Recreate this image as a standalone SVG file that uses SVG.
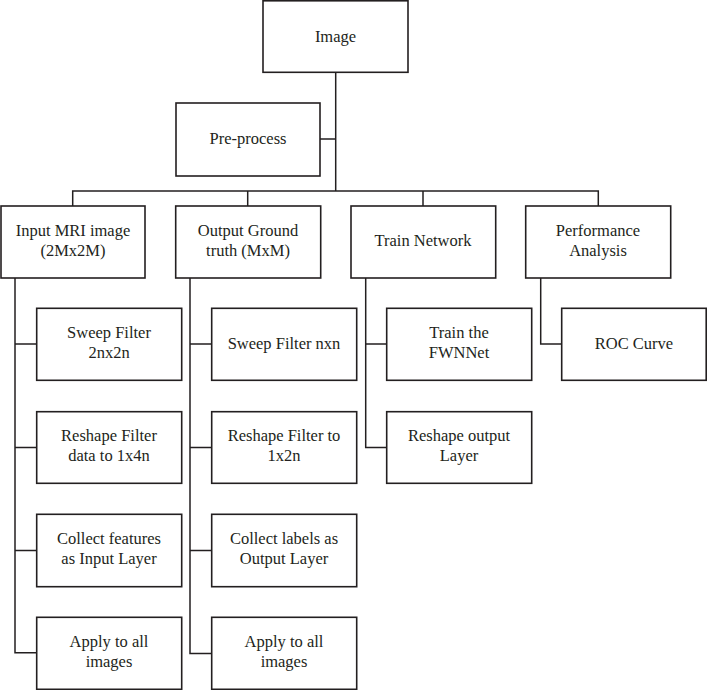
<svg xmlns="http://www.w3.org/2000/svg" width="707" height="690" viewBox="0 0 707 690">
<style>
.box{fill:#fff;stroke:#231f20;stroke-width:1.6}
.ln{fill:none;stroke:#231f20;stroke-width:1.5}
text{font-family:"Liberation Serif","DejaVu Serif",serif;font-size:16.5px;fill:#231f20;text-anchor:middle}
</style>
<rect width="707" height="690" fill="#fff"/>
<g id="connectors">
<path class="ln" d="M335.7 72 V191 M320 139 H335.7"/>
<path class="ln" d="M72.7 206 V191 H598.3 V206 M247.7 191 V206 M423 191 V206"/>
<path class="ln" d="M15 278 V652.7 H36.7 M15 344 H36.7 M15 447.5 H36.7 M15 550.5 H36.7"/>
<path class="ln" d="M190 278 V653.5 H211.7 M190 344 H211.7 M190 447.5 H211.7 M190 550.5 H211.7"/>
<path class="ln" d="M365.7 278 V447.5 H386.7 M365.7 344 H386.7"/>
<path class="ln" d="M540.7 278 V344 H561.7"/>
</g>
<g id="image"><rect class="box" x="263" y="0.8" width="145" height="71.5"/><text x="335.5" y="42">Image</text></g>
<g id="preprocess"><rect class="box" x="176" y="103" width="144" height="73"/><text x="248" y="144">Pre-process</text></g>
<g id="input"><rect class="box" x="1" y="206" width="144" height="72"/><text x="73" y="236">Input MRI image</text><text x="73" y="256">(2Mx2M)</text></g>
<g id="output"><rect class="box" x="175.7" y="206" width="145" height="72"/><text x="248" y="236">Output Ground</text><text x="248" y="256">truth (MxM)</text></g>
<g id="train"><rect class="box" x="351" y="206" width="144.7" height="72"/><text x="423" y="246">Train Network</text></g>
<g id="perf"><rect class="box" x="525.7" y="206" width="145" height="72"/><text x="598" y="236">Performance</text><text x="598" y="256">Analysis</text></g>
<g id="sweep1"><rect class="box" x="36.7" y="308.3" width="145" height="72"/><text x="109" y="338">Sweep Filter</text><text x="109" y="358">2nx2n</text></g>
<g id="reshape1"><rect class="box" x="36.7" y="411.7" width="145" height="71.6"/><text x="109" y="441">Reshape Filter</text><text x="109" y="461">data to 1x4n</text></g>
<g id="collect1"><rect class="box" x="36.7" y="514.3" width="145" height="72.4"/><text x="109" y="544">Collect features</text><text x="109" y="564">as Input Layer</text></g>
<g id="apply1"><rect class="box" x="36.7" y="617.3" width="145" height="72"/><text x="109" y="647">Apply to all</text><text x="109" y="667">images</text></g>
<g id="sweep2"><rect class="box" x="211.7" y="308.3" width="145" height="72"/><text x="284" y="349">Sweep Filter nxn</text></g>
<g id="reshape2"><rect class="box" x="211.7" y="411.7" width="145" height="71.6"/><text x="284" y="441">Reshape Filter to</text><text x="284" y="461">1x2n</text></g>
<g id="collect2"><rect class="box" x="211.7" y="514.3" width="145" height="72.4"/><text x="284" y="544">Collect labels as</text><text x="284" y="564">Output Layer</text></g>
<g id="apply2"><rect class="box" x="211.7" y="617.3" width="145" height="72"/><text x="284" y="647">Apply to all</text><text x="284" y="667">images</text></g>
<g id="trainfwn"><rect class="box" x="386.7" y="308.3" width="145" height="72"/><text x="459" y="338">Train the</text><text x="459" y="358">FWNNet</text></g>
<g id="reshapeout"><rect class="box" x="386.7" y="411.7" width="145" height="71.6"/><text x="459" y="441">Reshape output</text><text x="459" y="461">Layer</text></g>
<g id="roc"><rect class="box" x="561.7" y="308.3" width="144.5" height="72"/><text x="634" y="349">ROC Curve</text></g>
</svg>
